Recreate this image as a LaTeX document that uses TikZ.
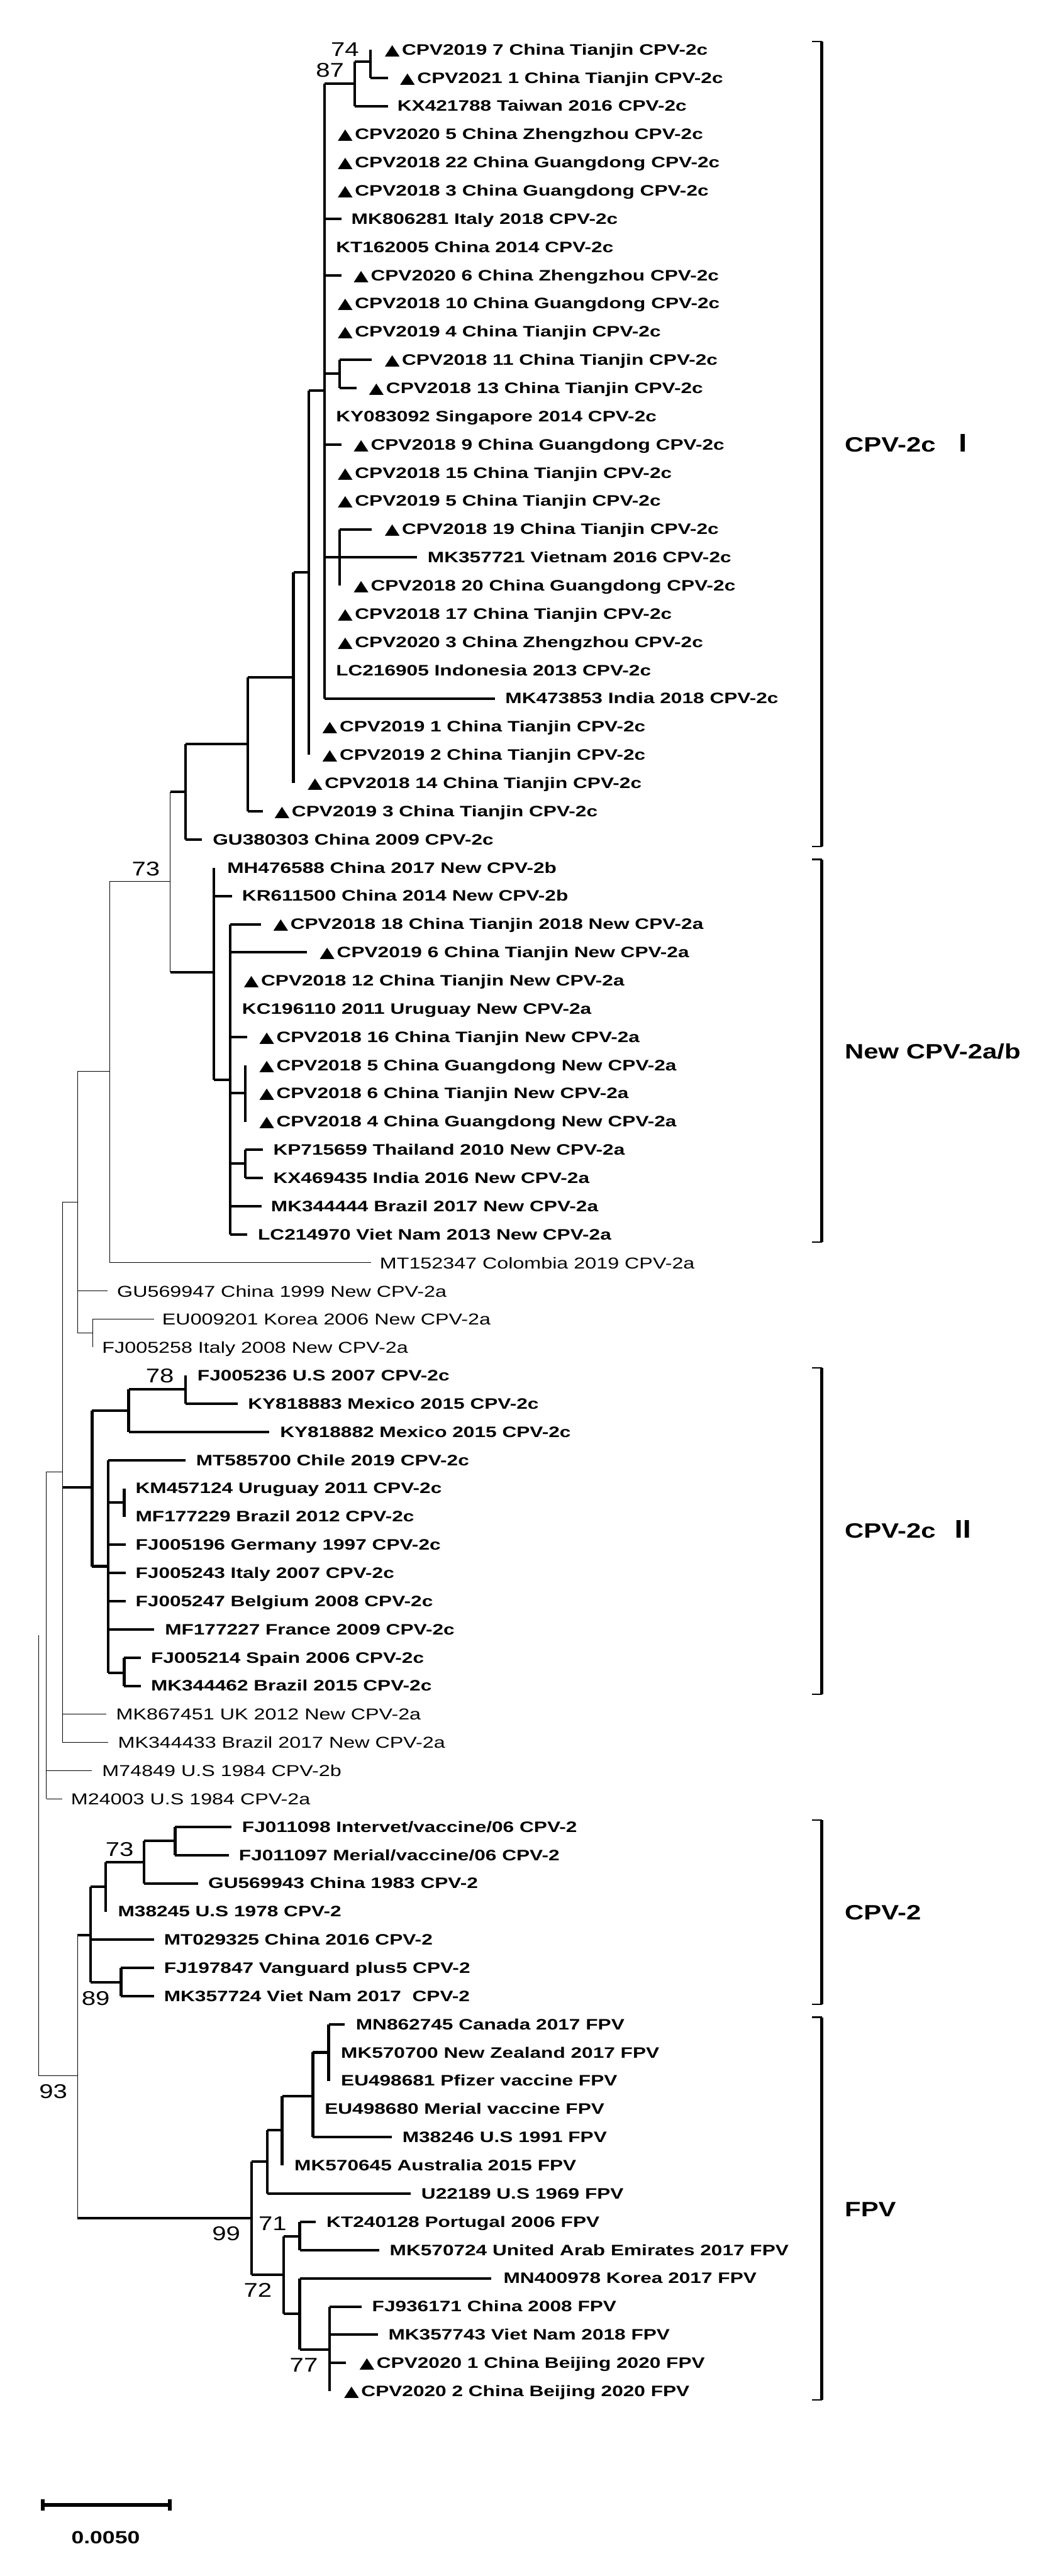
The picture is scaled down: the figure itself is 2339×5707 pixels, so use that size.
\documentclass[tikz,border=0pt]{standalone}
\usepackage{fontspec}
\setmainfont{Liberation Sans}
\newfontfamily\tipfam[FakeStretch=1.315]{Liberation Sans}
\newfontfamily\regfam[FakeStretch=1.285]{Liberation Sans}
\newfontfamily\numfam[FakeStretch=1.27]{Liberation Sans}
\newfontfamily\trifam[FakeStretch=1.30]{DejaVu Sans}
\newfontfamily\romfam[FakeStretch=1.0]{Noto Sans CJK SC}
\newcommand\tri{\makebox[19pt][l]{\trifam\fontsize{16.5pt}{18pt}\selectfont ▲}}
\newcommand\leaf[5]{%
  \coordinate (e#1) at (#2,{110+62.5*#1});
  \node[#4] (t#1) at (#3,{110+62.5*#1}) {#5};}
\newcommand\jn[3]{\coordinate (#1) at (#2,#3);}
\tikzset{
  thk/.style={line width=2.8pt,black,line cap=butt},
  thkv/.style={line width=3pt,black,line cap=square},
  thn/.style={line width=0.65pt,black,line cap=square},
  tb/.style={anchor=base west,inner sep=0pt,yshift=-5.75pt,font=\tipfam\bfseries\fontsize{16.75pt}{18pt}\selectfont},
  tr/.style={anchor=base west,inner sep=0pt,yshift=-6.5pt,font=\regfam\fontsize{17.5pt}{19pt}\selectfont},
  boot/.style={anchor=center,inner sep=0pt,font=\numfam\fontsize{22pt}{24pt}\selectfont},
  clade/.style={anchor=base west,inner sep=0pt,yshift=-8.25pt,font=\numfam\bfseries\fontsize{23pt}{25pt}\selectfont},
  brk/.style={line width=3pt,black},
  tick/.style={line width=1.5pt,black}
}
\begin{document}
\begin{tikzpicture}[x=0.5pt,y=-0.5pt]
\fill[white] (0,0) rectangle (2339,5707);
\useasboundingbox (0,0) rectangle (2339,5707);
% tips
\leaf{0}{821}{852}{tb}{\tri CPV2019 7 China Tianjin CPV-2c}
\leaf{1}{859}{886}{tb}{\tri CPV2021 1 China Tianjin CPV-2c}
\leaf{2}{859}{880}{tb}{KX421788 Taiwan 2016 CPV-2c}
\leaf{3}{719}{748}{tb}{\tri CPV2020 5 China Zhengzhou CPV-2c}
\leaf{4}{719}{748}{tb}{\tri CPV2018 22 China Guangdong CPV-2c}
\leaf{5}{719}{748}{tb}{\tri CPV2018 3 China Guangdong CPV-2c}
\leaf{6}{757}{778}{tb}{MK806281 Italy 2018 CPV-2c}
\leaf{7}{719}{744}{tb}{KT162005 China 2014 CPV-2c}
\leaf{8}{757}{783}{tb}{\tri CPV2020 6 China Zhengzhou CPV-2c}
\leaf{9}{719}{748}{tb}{\tri CPV2018 10 China Guangdong CPV-2c}
\leaf{10}{719}{748}{tb}{\tri CPV2019 4 China Tianjin CPV-2c}
\leaf{11}{824}{852}{tb}{\tri CPV2018 11 China Tianjin CPV-2c}
\leaf{12}{790}{817}{tb}{\tri CPV2018 13 China Tianjin CPV-2c}
\leaf{13}{719}{744}{tb}{KY083092 Singapore 2014 CPV-2c}
\leaf{14}{757}{783}{tb}{\tri CPV2018 9 China Guangdong CPV-2c}
\leaf{15}{719}{748}{tb}{\tri CPV2018 15 China Tianjin CPV-2c}
\leaf{16}{719}{748}{tb}{\tri CPV2019 5 China Tianjin CPV-2c}
\leaf{17}{824}{852}{tb}{\tri CPV2018 19 China Tianjin CPV-2c}
\leaf{18}{924}{947}{tb}{MK357721 Vietnam 2016 CPV-2c}
\leaf{19}{752}{783}{tb}{\tri CPV2018 20 China Guangdong CPV-2c}
\leaf{20}{719}{748}{tb}{\tri CPV2018 17 China Tianjin CPV-2c}
\leaf{21}{719}{748}{tb}{\tri CPV2020 3 China Zhengzhou CPV-2c}
\leaf{22}{719}{744}{tb}{LC216905 Indonesia 2013 CPV-2c}
\leaf{23}{1096}{1119}{tb}{MK473853 India 2018 CPV-2c}
\leaf{24}{684}{714}{tb}{\tri CPV2019 1 China Tianjin CPV-2c}
\leaf{25}{684}{714}{tb}{\tri CPV2019 2 China Tianjin CPV-2c}
\leaf{26}{650}{681}{tb}{\tri CPV2018 14 China Tianjin CPV-2c}
\leaf{27}{582}{608}{tb}{\tri CPV2019 3 China Tianjin CPV-2c}
\leaf{28}{447}{471}{tb}{GU380303 China 2009 CPV-2c}
\leaf{29}{474}{503}{tb}{MH476588 China 2017 New CPV-2b}
\leaf{30}{514}{536}{tb}{KR611500 China 2014 New CPV-2b}
\leaf{31}{578}{605}{tb}{\tri CPV2018 18 China Tianjin 2018 New CPV-2a}
\leaf{32}{680}{708}{tb}{\tri CPV2019 6 China Tianjin New CPV-2a}
\leaf{33}{510}{540}{tb}{\tri CPV2018 12 China Tianjin New CPV-2a}
\leaf{34}{510}{536}{tb}{KC196110 2011 Uruguay New CPV-2a}
\leaf{35}{548}{574}{tb}{\tri CPV2018 16 China Tianjin New CPV-2a}
\leaf{36}{543}{574}{tb}{\tri CPV2018 5 China Guangdong New CPV-2a}
\leaf{37}{543}{574}{tb}{\tri CPV2018 6 China Tianjin New CPV-2a}
\leaf{38}{543}{574}{tb}{\tri CPV2018 4 China Guangdong New CPV-2a}
\leaf{39}{582}{605}{tb}{KP715659 Thailand 2010 New CPV-2a}
\leaf{40}{582}{605}{tb}{KX469435 India 2016 New CPV-2a}
\leaf{41}{580}{600}{tb}{MK344444 Brazil 2017 New CPV-2a}
\leaf{42}{548}{571}{tb}{LC214970 Viet Nam 2013 New CPV-2a}
\leaf{43}{822}{841}{tr}{MT152347 Colombia 2019 CPV-2a}
\leaf{44}{238}{259}{tr}{GU569947 China 1999 New CPV-2a}
\leaf{45}{341}{359}{tr}{EU009201 Korea 2006 New CPV-2a}
\leaf{46}{205}{226}{tr}{FJ005258 Italy 2008 New CPV-2a}
\leaf{47}{411}{437}{tb}{FJ005236 U.S 2007 CPV-2c}
\leaf{48}{526}{549}{tb}{KY818883 Mexico 2015 CPV-2c}
\leaf{49}{597}{620}{tb}{KY818882 Mexico 2015 CPV-2c}
\leaf{50}{411}{434}{tb}{MT585700 Chile 2019 CPV-2c}
\leaf{51}{275}{300}{tb}{KM457124 Uruguay 2011 CPV-2c}
\leaf{52}{275}{300}{tb}{MF177229 Brazil 2012 CPV-2c}
\leaf{53}{279}{300}{tb}{FJ005196 Germany 1997 CPV-2c}
\leaf{54}{279}{300}{tb}{FJ005243 Italy 2007 CPV-2c}
\leaf{55}{279}{300}{tb}{FJ005247 Belgium 2008 CPV-2c}
\leaf{56}{342}{365}{tb}{MF177227 France 2009 CPV-2c}
\leaf{57}{312}{334}{tb}{FJ005214 Spain 2006 CPV-2c}
\leaf{58}{312}{334}{tb}{MK344462 Brazil 2015 CPV-2c}
\leaf{59}{235}{257}{tr}{MK867451 UK 2012 New CPV-2a}
\leaf{60}{239}{261}{tr}{MK344433 Brazil 2017 New CPV-2a}
\leaf{61}{203}{226}{tr}{M74849 U.S 1984 CPV-2b}
\leaf{62}{138}{157}{tr}{M24003 U.S 1984 CPV-2a}
\leaf{63}{513}{536}{tb}{FJ011098 Intervet/vaccine/06 CPV-2}
\leaf{64}{507}{529}{tb}{FJ011097 Merial/vaccine/06 CPV-2}
\leaf{65}{439}{461}{tb}{GU569943 China 1983 CPV-2}
\leaf{66}{234}{261}{tb}{M38245 U.S 1978 CPV-2}
\leaf{67}{341}{363}{tb}{MT029325 China 2016 CPV-2}
\leaf{68}{341}{363}{tb}{FJ197847 Vanguard plus5 CPV-2}
\leaf{69}{341}{363}{tb}{MK357724 Viet Nam 2017\ \ CPV-2}
\leaf{70}{764}{788}{tb}{MN862745 Canada 2017 FPV}
\leaf{71}{728}{755}{tb}{MK570700 New Zealand 2017 FPV}
\leaf{72}{728}{755}{tb}{EU498681 Pfizer vaccine FPV}
\leaf{73}{693}{719}{tb}{EU498680 Merial vaccine FPV}
\leaf{74}{868}{891}{tb}{M38246 U.S 1991 FPV}
\leaf{75}{625}{652}{tb}{MK570645 Australia 2015 FPV}
\leaf{76}{910}{933}{tb}{U22189 U.S 1969 FPV}
\leaf{77}{699}{723}{tb}{KT240128 Portugal 2006 FPV}
\leaf{78}{840}{863}{tb}{MK570724 United Arab Emirates 2017 FPV}
\leaf{79}{1088}{1115}{tb}{MN400978 Korea 2017 FPV}
\leaf{80}{801}{824}{tb}{FJ936171 China 2008 FPV}
\leaf{81}{837}{860}{tb}{MK357743 Viet Nam 2018 FPV}
\leaf{82}{767}{796}{tb}{\tri CPV2020 1 China Beijing 2020 FPV}
\leaf{83}{730}{762}{tb}{\tri CPV2020 2 China Beijing 2020 FPV}
% internal nodes
\jn{n1}{821}{137}\jn{n2}{786}{185}\jn{n3}{719}{865}\jn{n4}{752}{827}\jn{n5}{752}{1235}
\jn{n6}{684}{1268}\jn{n7}{650}{1501}\jn{n8}{549}{1648}\jn{n9}{411}{1754}\jn{n10}{377}{1953}
\jn{n11}{474}{2154}\jn{n12}{510}{2392}\jn{n13}{543}{2422}\jn{n14}{543}{2578}
\jn{n15}{243}{2374}\jn{n16}{172}{2663}\jn{n17}{205}{2953}\jn{n18}{138}{3261}
\jn{n19}{204}{3295}\jn{n20}{285}{3125}\jn{n21}{411}{3078}\jn{n22}{240}{3470}
\jn{n23}{275}{3328}\jn{n24}{275}{3706}\jn{n25}{103}{3623}\jn{n26}{85}{3623}
\jn{n27}{172}{4599}\jn{n28}{201}{4287}\jn{n29}{234}{4180}\jn{n30}{319}{4126}
\jn{n31}{388}{4078}\jn{n32}{268}{4391}\jn{n33}{557}{4914}\jn{n34}{592}{4789}
\jn{n35}{625}{4719}\jn{n36}{693}{4644}\jn{n37}{728}{4547}\jn{n38}{628}{5039}
\jn{n39}{664}{4955}\jn{n40}{664}{5126}\jn{n41}{730}{5205}
% thin branches
\foreach \n/\a/\b in {n10/n9/n11,n15/n10/e43,n16/n15/n17,n17/e45/e46,n18/n16/e60,n25/n18/e62,n26/n25/n27,n27/n28/n33}
  \draw[thn] (\n |- \a) -- (\n |- \b);
\foreach \p/\c in {n15/n10,n15/e43,n16/n15,n16/e44,n16/n17,n17/e45,n18/n16,n18/e59,n18/e60,n25/n18,n25/e61,n25/e62,n26/n27}
  \draw[thn] (\p |- \c) -- (\c);
% thick branches
\foreach \n/\a/\b in {n1/e0/e1,n2/n1/e2,n3/n2/e23,n4/e11/e12,n5/e17/e19,n6/n3/e25,n7/n6/e26,n8/n7/e27,n9/n8/e28,n11/e29/n12,n12/e31/e42,n13/e36/e38,n14/e39/e40,n19/n20/n22,n20/n21/e49,n21/e47/e48,n22/e50/n24,n23/e51/e52,n24/e57/e58,n28/n29/n32,n29/n30/e66,n30/n31/e65,n31/e63/e64,n32/e68/e69,n33/n34/n38,n34/n35/e76,n35/n36/e75,n36/n37/e74,n37/e70/e72,n38/n39/n40,n39/e77/e78,n40/e79/n41,n41/e80/e83}
  \draw[thkv] (\n |- \a) -- (\n |- \b);
\foreach \p/\c in {n1/e1,n2/n1,n2/e2,n3/n2,n3/e6,n3/e8,n3/n4,n4/e11,n4/e12,n3/e14,n5/e17,n3/e18,n3/e23,n6/n3,n7/n6,n8/n7,n8/e27,n9/n8,n9/e28,n10/n9,n10/n11,n11/e30,n11/n12,n12/e31,n12/e32,n12/e35,n12/n13,n12/n14,n14/e39,n14/e40,n12/e41,n12/e42,n18/n19,n19/n20,n20/n21,n21/e48,n20/e49,n19/n22,n22/e50,n22/n23,n22/e53,n22/e54,n22/e55,n22/e56,n22/n24,n24/e57,n24/e58,n27/n28,n28/n29,n29/n30,n30/n31,n31/e63,n31/e64,n30/e65,n28/e67,n28/n32,n32/e68,n32/e69,n27/n33,n33/n34,n34/n35,n35/n36,n36/n37,n37/e70,n36/e74,n34/e76,n33/n38,n38/n39,n39/e77,n39/e78,n38/n40,n40/e79,n40/n41,n41/e80,n41/e81,n41/e82}
  \draw[thk] (\p |- \c) -- (\c);
% bootstrap values
\node[boot] (b1) at (764,109) {74};
\node[boot] (b2) at (731,155) {87};
\node[boot] (b3) at (323,1925) {73};
\node[boot] (b4) at (354,3048) {78};
\node[boot] (b5) at (265,4097) {73};
\node[boot] (b6) at (212,4427) {89};
\node[boot] (b7) at (118,4633) {93};
\node[boot] (b8) at (604,4926) {71};
\node[boot] (b9) at (501,4949) {99};
\node[boot] (b10) at (571,5074) {72};
\node[boot] (b11) at (673,5240) {77};
% clade brackets
\foreach \i/\t/\b in {1/92/1875,2/1904/2752,3/3030/3753,4/4032/4440,5/4469/5317}{
  \coordinate (ct\i) at (1799,\t);
  \coordinate (cb\i) at (1799,\b);
  \coordinate (vt\i) at (1820.5,\t);
  \coordinate (vb\i) at (1820.5,\b);
  \draw[tick] (ct\i) -- (vt\i);
  \draw[tick] (cb\i) -- (vb\i);
  \draw[brk,line cap=square] (vt\i) -- (vb\i);
}
\node[clade] (c1) at (1871,985) {CPV-2c\hspace{17pt}{\romfam\fontsize{26pt}{26pt}\selectfont Ⅰ}};
\node[clade] (c2) at (1871,2329) {New CPV-2a/b};
\node[clade] (c3) at (1871,3391) {CPV-2c\hspace{17pt}{\romfam\fontsize{26pt}{26pt}\selectfont Ⅱ}};
\node[clade] (c4) at (1871,4237) {CPV-2};
\node[clade] (c5) at (1871,4894) {FPV};
% scale bar
\coordinate (s1) at (95,5549.5);
\coordinate (s2) at (376,5549.5);
\draw[thk,line width=4pt] (s1) -- (s2);
\draw[thk,line width=4pt] ([yshift=6.5pt]s1) -- ([yshift=-6.5pt]s1);
\draw[thk,line width=4pt] ([yshift=6.5pt]s2) -- ([yshift=-6.5pt]s2);
\node[anchor=center,inner sep=0pt,font=\numfam\bfseries\fontsize{19.5pt}{21pt}\selectfont] (sl) at (234,5622) {0.0050};
\end{tikzpicture}
\end{document}
